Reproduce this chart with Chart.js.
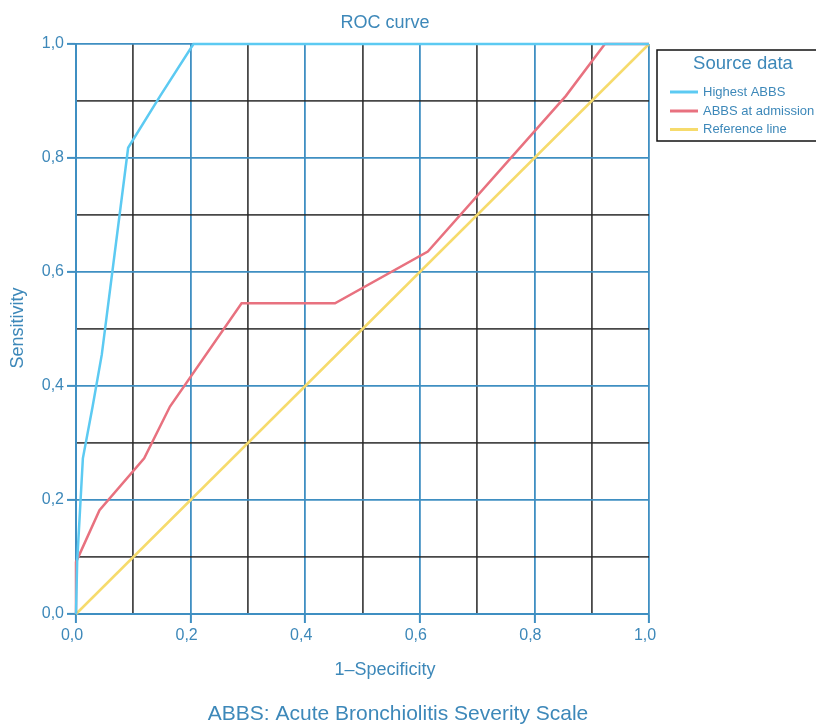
<!DOCTYPE html>
<html>
<head>
<meta charset="utf-8">
<script src="https://cdn.jsdelivr.net/npm/chart.js@4/dist/chart.umd.min.js"></script>
<style>
  html, body { margin: 0; padding: 0; background: #ffffff; }
  #wrap { width: 816px; height: 725px; position: relative; }
</style>
</head>
<body>
<div id="wrap"><canvas id="c" width="816" height="725"></canvas></div>
<script>
// ---- data ----
const seriesNames = ["Highest ABBS", "ABBS at admission", "Reference line"];
const highestX = [0, 0.002, 0.007, 0.012, 0.029, 0.045, 0.091, 0.147, 0.205, 1.0];
const highestY = [0, 0.091, 0.182, 0.273, 0.364, 0.455, 0.818, 0.909, 1.0, 1.0];
const admissionX = [0, 0, 0.041, 0.119, 0.164, 0.289, 0.452, 0.614, 0.855, 0.923, 1.0];
const admissionY = [0, 0.091, 0.182, 0.273, 0.364, 0.545, 0.545, 0.636, 0.909, 1.0, 1.0];
const referenceX = [0, 1];
const referenceY = [0, 1];
const tickValues = [0, 0.2, 0.4, 0.6, 0.8, 1.0];

const TXT = '#3d88b9';
const GRID_BLUE = '#3f8fc2';
const GRID_BLACK = 'rgba(40,40,40,0.85)';
const C_BLUE = '#5ccaf2';
const C_RED = '#e8717f';
const C_YEL = '#f6db6c';
const FONT = "'Liberation Sans', Arial, sans-serif";

function pts(xs, ys) { return xs.map((x, i) => ({ x: x, y: ys[i] })); }
function isMajor(v) { return Math.round(v * 10) % 2 === 0; }
function fmt(v) { return v.toFixed(1).replace('.', ','); }

const textPlugin = {
  id: 'texts',
  afterDraw(chart) {
    const ctx = chart.ctx;
    ctx.save();
    ctx.fillStyle = TXT;
    ctx.textAlign = 'center';
    ctx.textBaseline = 'middle';
    ctx.font = '18px ' + FONT;
    ctx.fillText('ROC curve', 385, 23);
    ctx.fillText('1\u2013Specificity', 385, 670);
    ctx.font = '21px ' + FONT;
    ctx.fillText('ABBS: Acute Bronchiolitis Severity Scale', 398, 714);
    ctx.save();
    ctx.translate(18, 328);
    ctx.rotate(-Math.PI / 2);
    ctx.font = '18px ' + FONT;
    ctx.fillText('Sensitivity', 0, 0);
    ctx.restore();

    // legend
    ctx.strokeStyle = '#111';
    ctx.lineWidth = 1.5;
    ctx.strokeRect(657, 50, 200, 91);
    ctx.font = '18.5px ' + FONT;
    ctx.fillText('Source data', 743, 64);
    const cols = [C_BLUE, C_RED, C_YEL];
    const ys = [92, 111, 129.5];
    ctx.font = '13px ' + FONT;
    ctx.textAlign = 'left';
    for (let i = 0; i < seriesNames.length; i++) {
      ctx.strokeStyle = cols[i];
      ctx.lineWidth = 3;
      ctx.beginPath();
      ctx.moveTo(670, ys[i]);
      ctx.lineTo(698, ys[i]);
      ctx.stroke();
      ctx.fillStyle = TXT;
      ctx.fillText(seriesNames[i], 703, ys[i]);
    }
    ctx.restore();
  }
};

function axisOpts(isX) {
  return {
    type: 'linear',
    min: 0,
    max: 1,
    afterBuildTicks(scale) {
      const t = [];
      for (let i = 0; i <= 10; i++) t.push({ value: i / 10 });
      scale.ticks = t;
    },
    afterFit(scale) {
      if (isX) scale.height = 111; else scale.width = 76;
    },
    ticks: {
      autoSkip: false,
      maxRotation: 0,
      color: TXT,
      font: { family: FONT, size: 16 },
      padding: 3,
      labelOffset: isX ? -4 : 0,
      callback: (v) => (tickValues.some(t => Math.abs(t - v) < 1e-6) ? fmt(v) : '')
    },
    grid: {
      color: (c) => (isMajor(c.tick.value) ? GRID_BLUE : GRID_BLACK),
      lineWidth: 1.8,
      tickLength: 9,
      tickColor: (c) => (isMajor(c.tick.value) ? GRID_BLUE : 'rgba(0,0,0,0)'),
      tickWidth: 2
    },
    border: { display: true, color: GRID_BLUE, width: 2 }
  };
}

new Chart(document.getElementById('c'), {
  type: 'scatter',
  data: {
    datasets: [
      { label: seriesNames[0], data: pts(highestX, highestY), showLine: true, borderColor: C_BLUE, borderWidth: 2.5, pointRadius: 0, order: 1, clip: false },
      { label: seriesNames[1], data: pts(admissionX, admissionY), showLine: true, borderColor: C_RED, borderWidth: 2.5, pointRadius: 0, order: 2, clip: false },
      { label: seriesNames[2], data: pts(referenceX, referenceY), showLine: true, borderColor: C_YEL, borderWidth: 2.5, pointRadius: 0, order: 3, clip: false }
    ]
  },
  options: {
    responsive: false,
    animation: false,
    devicePixelRatio: 1,
    layout: { padding: { top: 44, right: 167, left: 0, bottom: 0 } },
    plugins: { legend: { display: false }, title: { display: false }, tooltip: { enabled: false } },
    scales: { x: axisOpts(true), y: axisOpts(false) }
  },
  plugins: [textPlugin]
});
</script>
</body>
</html>
